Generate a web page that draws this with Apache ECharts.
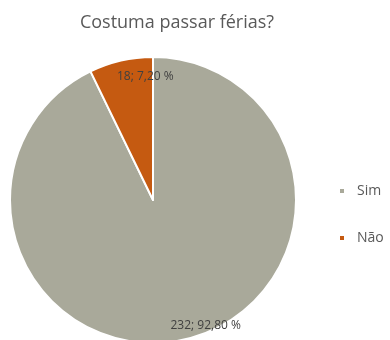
<!DOCTYPE html>
<html><head><meta charset="utf-8">
<script src="https://cdn.jsdelivr.net/npm/echarts@6/dist/echarts.min.js"></script>
<style>html,body{margin:0;padding:0;background:#fff}#c{width:390px;height:340px}</style>
</head><body><div id="c"></div>
<script>
const categories = ['Sim', 'Não'];
const counts = [232, 18];
const percentLabels = ['92,80 %', '7,20 %'];
const colors = ['#A9A99A', '#C55A11'];
const labelShift = [[36, 53], [9, -51]];

const chart = echarts.init(document.getElementById('c'), null, {renderer: 'canvas'});
chart.setOption({
  backgroundColor: '#ffffff',
  animation: false,
  title: {
    text: 'Costuma passar férias?',
    left: 172, textAlign: 'center', top: 9,
    textStyle: {fontFamily: 'Open Sans', fontWeight: 'normal', fontSize: 18, color: '#595959'}
  },
  legend: {
    orient: 'vertical', left: 338, top: 184, itemGap: 33, padding: 0,
    icon: 'rect', itemWidth: 6, itemHeight: 6,
    textStyle: {fontFamily: 'Open Sans', fontSize: 14, color: '#595959', padding: [0, 0, 0, 7]},
    data: categories
  },
  series: [{
    type: 'pie',
    center: [153, 200], radius: [0, 143],
    startAngle: 90, clockwise: true,
    itemStyle: {borderColor: '#ffffff', borderWidth: 2},
    label: {
      position: 'inside',
      fontFamily: 'Open Sans', fontSize: 12, color: '#404040',
      formatter: p => counts[p.dataIndex] + '; ' + percentLabels[p.dataIndex]
    },
    labelLine: {show: false},
    labelLayout: p => ({dx: labelShift[p.dataIndex][0], dy: labelShift[p.dataIndex][1]}),
    data: categories.map((c, i) => ({name: c, value: counts[i], itemStyle: {color: colors[i]}}))
  }]
});
</script></body></html>
